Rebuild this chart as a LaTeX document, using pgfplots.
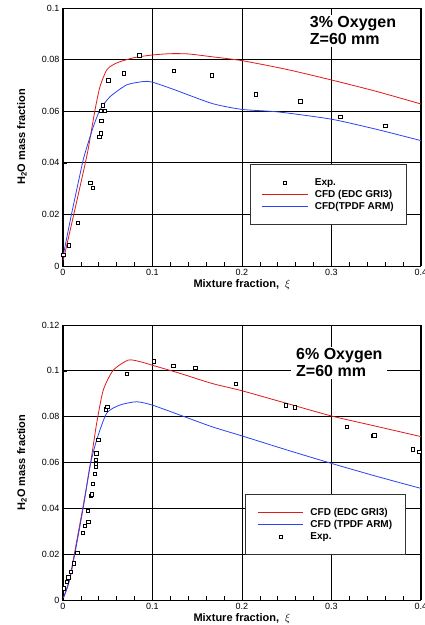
\documentclass[border=0pt]{standalone}
\usepackage{fontspec}
\setmainfont{Liberation Sans}
\usepackage{pgfplots}
\pgfplotsset{compat=1.18}
\definecolor{edcred}{RGB}{225,25,25}
\definecolor{tpdfblue}{RGB}{45,65,245}

% shared look of both panels
\pgfplotsset{
  scale only axis, width=358pt,
  xmin=0, xmax=0.4, xtick={0,0.1,0.2,0.3,0.4}, minor x tick num=4,
  xtick pos=bottom, ytick pos=left, tick align=inside,
  major tick length=4pt, minor tick length=4pt,
  grid=major, grid style={black, line width=0.7pt},
  axis line style={line width=1pt},
  tick style={black, line width=0.6pt},
  /pgf/number format/assume math mode=true,
  /pgf/number format/fixed,
  /pgf/number format/precision=2,
  tick label style={font=\fontsize{9}{10}\selectfont},
  xlabel={\textbf{Mixture fraction,\ \ }$\xi$},
  ylabel={\textbf{H\textsubscript{2}O mass fraction}},
  label style={font=\fontsize{11}{12}\selectfont},
  legend cell align=left,
  legend style={font=\fontsize{10}{12}\selectfont\bfseries, draw=black!80,
    line width=0.8pt, anchor=north west, inner xsep=12pt, inner ysep=12pt,
    row sep=0pt, column sep=6pt,
    nodes={inner sep=1pt, text height=7.5pt, text depth=2.5pt}},
  legend image code/.code={\draw[mark repeat=2,mark phase=2,#1]
    plot coordinates {(0pt,0pt) (22.5pt,0pt) (45pt,0pt)};},
  expmark/.style={only marks, mark=square*, mark size=1.7pt,
    mark options={fill=white, draw=black, line width=0.7pt}},
  edc/.style={edcred, line width=0.8pt, no marks, smooth, tension=0.4},
  tpdf/.style={tpdfblue, line width=0.8pt, no marks, smooth, tension=0.4},
}

\begin{document}
\begin{tikzpicture}[x=1pt,y=1pt]

% ---------- 3% oxygen ----------
\begin{axis}[at={(63pt,-266pt)}, anchor=south west, height=258pt,
  ymin=0, ymax=0.1, ytick={0,0.02,0.04,0.06,0.08,0.1},
  xlabel style={at={(axis description cs:0.5,-0.0833)}, anchor=base},
  ylabel style={at={(axis description cs:-0.1061,0.5)}, anchor=base},
  legend style={at={(axis description cs:0.5215,0.3942)}}]
\addplot[expmark] coordinates {
  (0.0004,0.0043)(0.0067,0.0080)(0.0164,0.0168)(0.0305,0.0323)(0.0335,0.0304)
  (0.0406,0.0500)(0.0425,0.0514)(0.0428,0.0562)(0.0425,0.0601)(0.0470,0.0601)
  (0.0443,0.0623)(0.0506,0.0720)(0.0682,0.0747)(0.0852,0.0817)(0.1240,0.0756)
  (0.1665,0.0739)(0.2153,0.0665)(0.2652,0.0638)(0.3100,0.0579)(0.3600,0.0543)
};
\addlegendentry{Exp.}
\addplot[edc] coordinates {
  (0.0004,0.0023)(0.0123,0.0204)(0.0250,0.0400)(0.0280,0.0450)(0.0358,0.0605)
  (0.0413,0.0695)(0.0488,0.0760)(0.0560,0.0780)(0.0637,0.0792)(0.0800,0.0808)
  (0.1000,0.0818)(0.1200,0.0823)(0.1400,0.0822)(0.1665,0.0811)(0.2000,0.0796)
  (0.2500,0.0762)(0.3000,0.0721)(0.3500,0.0677)(0.4000,0.0628)
};
\addlegendentry{CFD (EDC GRI3)}
\addplot[tpdf] coordinates {
  (0.0000,0.0036)(0.0097,0.0204)(0.0217,0.0398)(0.0257,0.0450)(0.0339,0.0540)
  (0.0413,0.0605)(0.0525,0.0656)(0.0712,0.0702)(0.0897,0.0715)(0.0994,0.0713)
  (0.1232,0.0685)(0.1665,0.0630)(0.2000,0.0607)(0.2410,0.0597)(0.3000,0.0569)
  (0.3500,0.0530)(0.4000,0.0486)
};
\addlegendentry{CFD(TPDF ARM)}
\node[fill=white, inner xsep=5pt, inner ysep=2pt, anchor=north west, align=left,
  font=\fontsize{16}{16.7}\selectfont\bfseries]
  at (axis description cs:0.6751,0.9744) {3\% Oxygen\\Z=60 mm};
\end{axis}

% ---------- 6% oxygen ----------
\begin{axis}[at={(63pt,-600pt)}, anchor=south west, height=275pt,
  ymin=0, ymax=0.12, ytick={0,0.02,0.04,0.06,0.08,0.1,0.12},
  xlabel style={at={(axis description cs:0.5,-0.0782)}, anchor=base},
  ylabel style={at={(axis description cs:-0.1061,0.5)}, anchor=base},
  legend style={at={(axis description cs:0.5092,0.3844)}}]
\addplot[edc] coordinates {
  (0.0005,0.0010)(0.0078,0.0102)(0.0220,0.0400)(0.0302,0.0582)(0.0376,0.0771)
  (0.0450,0.0916)(0.0562,0.1003)(0.0730,0.1047)(0.0860,0.1040)(0.0994,0.1025)
  (0.1307,0.0989)(0.1665,0.0945)(0.2000,0.0913)(0.2500,0.0858)(0.3000,0.0803)
  (0.3500,0.0758)(0.4000,0.0713)
};
\addlegendentry{CFD (EDC GRI3)}
\addplot[tpdf] coordinates {
  (0.0005,0.0010)(0.0082,0.0100)(0.0225,0.0400)(0.0300,0.0582)(0.0376,0.0698)
  (0.0488,0.0815)(0.0637,0.0851)(0.0823,0.0865)(0.0994,0.0851)(0.1307,0.0807)
  (0.1665,0.0756)(0.2000,0.0716)(0.2500,0.0655)(0.3000,0.0596)(0.3500,0.0540)
  (0.4000,0.0487)
};
\addlegendentry{CFD (TPDF ARM)}
\addplot[expmark] coordinates {
  (0.0011,0.0051)(0.0041,0.0079)(0.0060,0.0099)(0.0086,0.0122)(0.0120,0.0160)
  (0.0160,0.0206)(0.0223,0.0294)(0.0246,0.0323)(0.0283,0.0342)(0.0276,0.0390)
  (0.0309,0.0454)(0.0320,0.0461)(0.0332,0.0506)(0.0354,0.0550)(0.0365,0.0582)
  (0.0365,0.0593)(0.0365,0.0611)(0.0372,0.0640)(0.0395,0.0699)(0.0477,0.0832)
  (0.0495,0.0842)(0.0715,0.0986)(0.1017,0.1041)(0.1232,0.1021)(0.1478,0.1012)
  (0.1930,0.0942)(0.2492,0.0849)(0.2592,0.0841)(0.3170,0.0756)(0.3464,0.0716)
  (0.3480,0.0719)(0.3907,0.0657)(0.3980,0.0647)
};
\addlegendentry{Exp.}
\node[fill=white, inner xsep=5pt, inner ysep=2pt, anchor=north west, align=left,
  font=\fontsize{16}{16.7}\selectfont\bfseries]
  at (axis description cs:0.6369,0.9225) {6\% Oxygen\\Z=60 mm};
\end{axis}

\pgfresetboundingbox
\useasboundingbox (0pt,0pt) rectangle (425pt,-625pt);
\end{tikzpicture}
\end{document}
